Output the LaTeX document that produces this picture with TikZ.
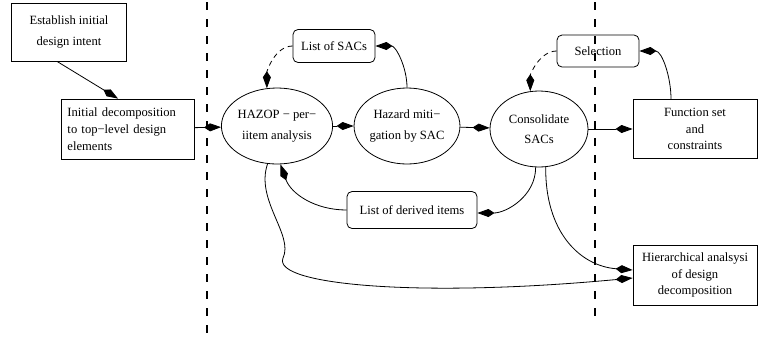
\documentclass[tikz,border=0pt]{standalone}
\usepackage{fontspec}
\setmainfont{Liberation Serif}
\usetikzlibrary{shapes.geometric, arrows.meta, calc}

\begin{document}
\begin{tikzpicture}[
        x=1bp, y=1bp,
        box/.style={draw, line width=0.8bp, align=center, inner sep=0pt,
                    font=\fontsize{12.6bp}{16.7bp}\selectfont},
        roundbox/.style={box, rounded corners=5bp},
        activity/.style={draw, ellipse, line width=0.8bp, align=center, inner sep=0pt,
                         minimum width=98bp, minimum height=76bp,
                         font=\fontsize{12.6bp}{20.5bp}\selectfont},
        link/.style={-{Kite[length=17bp,width=8bp,inset=6bp]}, line width=0.8bp},
        feedback/.style={link, dash pattern=on 5bp off 4bp},
        separator/.style={line width=2bp, dash pattern=on 8bp off 9bp},
    ]

    \useasboundingbox (0,0) rectangle (758,-341);

    % ---------- Design inputs --------------------------------------------
    \node[box, minimum width=115bp, minimum height=58bp,
          font=\fontsize{12.6bp}{21.5bp}\selectfont]    (intent) at (69,-32)  {Establish initial\\design intent};
    \node[box, minimum width=133bp, minimum height=60bp, text width=121bp,
          align=left]                                   (decomp) at (128,-129) {Initial decomposition\\to top{\char"2212}level design\\elements};

    % ---------- Analysis activities --------------------------------------
    \node[activity] (hazop)  at (277,-126) {HAZOP {\char"2212} per{\char"2212}\\iitem analysis};
    \node[activity] (mitig)  at (407,-126) {Hazard miti{\char"2212}\\gation by SAC};
    \node[activity] (consol) at (539,-129) {Consolidate\\SACs};

    \node[roundbox, minimum width=82bp, minimum height=33bp]  (sacs)      at (334,-46)  {List of SACs};
    \node[roundbox, minimum width=82bp, minimum height=32bp]  (selection) at (598,-51)  {Selection};
    \node[roundbox, minimum width=130bp, minimum height=37bp] (derived)   at (412,-210) {List of derived items};

    % ---------- Outputs --------------------------------------------------
    \node[box, minimum width=124bp, minimum height=59bp] (funcset) at (695,-129) {Function set\\and\\constraints};
    \node[box, minimum width=124bp, minimum height=60bp] (hier)    at (695,-275) {Hierarchical analsysi\\of design\\decomposition};

    % ---------- Main flow ------------------------------------------------
    \draw[link] ([xshift=-12bp]intent.south) -- ([xshift=-10bp]decomp.north);
    \draw[link] (decomp) -- (hazop);
    \draw[link] (hazop) -- (mitig);
    \draw[link] (mitig) -- (consol);
    \draw[link] (consol) -- (funcset);

    % ---------- Loops back into the analysis -----------------------------
    \draw[link] (mitig.north) to[out=90, in=0] (sacs.east);
    \draw[feedback] (sacs.west) to[out=180, in=90, looseness=0.9] (hazop.105);
    \draw[link] ([xshift=-24bp]funcset.north) to[out=90, in=0] (selection.east);
    \draw[feedback] (selection.west) to[out=180, in=90, looseness=0.9] (consol.103);
    \draw[link] (consol.265) to[out=-90, in=0] ([yshift=-3bp]derived.east);
    \draw[link] (derived.west) to[out=180, in=-70] (hazop.-85);

    % ---------- Into the hierarchical analysis ---------------------------
    \draw[link] (hazop.-104) .. controls (255,-200) and (294,-235) .. (283,-258)
                .. controls (272,-285) and (420,-298) .. ([yshift=-3bp]hier.west);
    \draw[link] (consol.-80) .. controls (545,-232) and (580,-266) .. ([yshift=5bp]hier.west);

    % ---------- Stage separators -----------------------------------------
    \coordinate (septopA) at (207,-2);
    \coordinate (sepbotA) at (207,-338);
    \coordinate (septopB) at (595,-2);
    \coordinate (sepbotB) at (595,-321);
    \draw[separator] (septopA) -- (sepbotA);
    \draw[separator] (septopB) -- (sepbotB);

\end{tikzpicture}
\end{document}
